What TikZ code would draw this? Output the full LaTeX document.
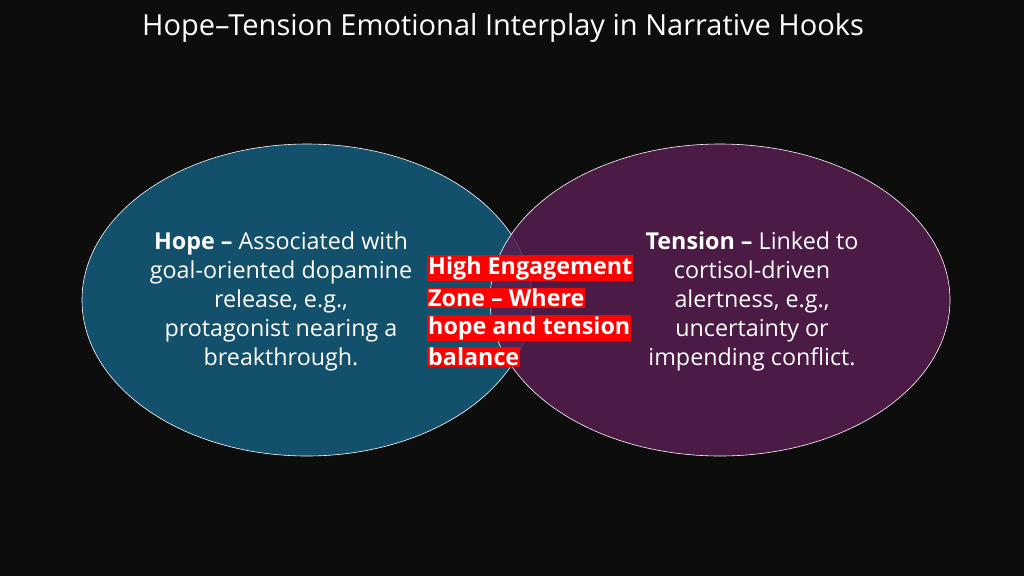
\documentclass[tikz,border=0pt]{standalone}
\usepackage{fontspec}
\setmainfont{Open Sans}
\begin{document}
\begin{tikzpicture}[x=1pt,y=-1pt,
  body/.style={text=white,font=\fontsize{23.3}{29}\selectfont,align=center},
  hl/.style={fill=red,text=white,font=\bfseries\fontsize{23.3}{24}\selectfont,anchor=west,inner xsep=1pt,inner ysep=1.5pt}]
\fill[black!95] (0,0) rectangle (1024,576);
\useasboundingbox (0,0) rectangle (1024,576);
\node[text=white,font=\fontsize{29}{30}\selectfont] (title) at (503,28) {Hope–Tension Emotional Interplay in Narrative Hooks};
\filldraw[fill={rgb,255:red,18;green,80;blue,107},draw=white,line width=0.6] (307,300) ellipse [x radius=225,y radius=156];
\filldraw[fill={rgb,255:red,86;green,29;blue,79},fill opacity=0.85,draw=white,line width=0.6] (720,300) ellipse [x radius=230,y radius=156];
\node[body] (hope) at (281,301) {\textbf{Hope –} Associated with\\goal-oriented dopamine\\release, e.g.,\\protagonist nearing a\\breakthrough.};
\node[body] (tension) at (752,301) {\textbf{Tension –} Linked to\\cortisol-driven\\alertness, e.g.,\\uncertainty or\\impending conflict.};
\node[hl] (z1) at (427,268) {High Engagement};
\node[hl] (z2) at (427,298) {Zone – Where};
\node[hl] (z3) at (427,328) {hope and tension};
\node[hl] (z4) at (427,357) {balance};
\end{tikzpicture}
\end{document}
